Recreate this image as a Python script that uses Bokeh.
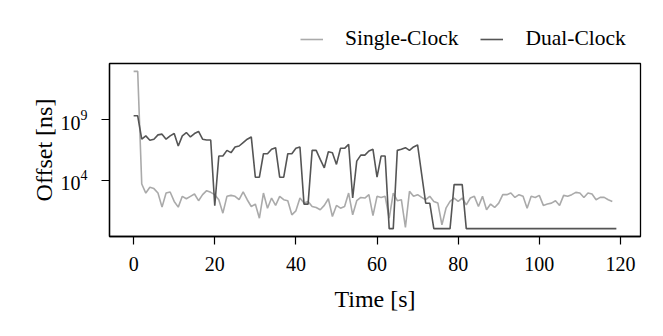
import numpy as np
from bokeh.plotting import figure
from bokeh.layouts import column
from bokeh.models import Range1d, FixedTicker, Legend, LegendItem
from bokeh.embed import file_html
from bokeh.resources import INLINE

# time in seconds
time_single = list(range(119))
time_dual = list(range(120))

# offsets as log10(ns)
single_log10 = [
    13, 13, 3.69, 2.94, 3.42, 3.31, 2.94, 1.78, 2.94, 3.03, 2.25, 1.78, 2.67, 2.47, 2.67, 2.86, 2.31, 2.81, 3.14, 3.0,
    2.81, 2.39, 1.28, 2.67, 2.75, 2.67, 2.39, 3.03, 2.39, 1.83, 2.03, 0.86, 2.94, 1.69, 2.53, 1.92, 2.67, 2.39, 2.31, 1.14, 1.47, 2.53, 2.11,
    2.25, 1.83, 1.75, 1.56, 1.92, 2.47, 1.0, 1.92, 1.69, 1.83, 2.94, 1.14, 2.31, 2.58, 2.53, 2.81, 1.08, 2.67, 2.58, 2.67, 0.86, 2.94, 2.31, 2.39, 0.1, 3.08,
    2.67, 2.81, 2.58, 2.39, 2.67, 2.25, 2.11, 0.31, 1.69, 2.25, 2.53, 2.25, 2.53, 1.97, 2.53, 2.67, 1.83, 2.67, 1.56, 2.03, 1.75, 2.11, 2.81, 2.81,
    2.94, 2.58, 2.81, 2.67, 1.69, 2.67, 2.58, 2.75, 1.92, 2.03, 2.11, 2.31, 1.92, 2.75, 2.67, 2.81, 3.0, 2.94, 2.58, 2.94, 2.86, 2.39, 2.58, 2.58, 2.39, 2.25,
]
dual_log10 = [
    9.33, 9.33, 7.39, 7.67, 7.31, 7.39, 7.75, 7.81, 7.39, 7.67, 7.86, 6.83, 7.67, 7.94, 7.58, 7.86, 8.03, 7.39, 7.33, 7.33,
    1.89, 6.0, 6.0, 6.47, 6.28, 6.75, 6.83, 7.11, 7.39, 7.58, 4.25, 4.25, 6.19, 6.19, 6.56, 6.69, 4.25, 4.25, 6.19, 6.19, 6.64, 6.75, 2.03, 2.03,
    6.47, 6.47, 5.72, 5.03, 6.36, 6.28, 5.31, 6.64, 6.64, 6.97, 2.53, 5.58, 6.08, 6.08, 6.42, 6.56, 4.25, 6.0, 6.0, 0, 0, 6.47, 6.56, 6.69, 6.47,
    6.75, 6.92, 4.5, 2.1, 2.1, 0, 0, 0, 0, 0, 3.64, 3.64, 3.64,
] + [0] * 38

y_ticks = [1e4, 1e9]
x_ticks = [0, 20, 40, 60, 80, 100, 120]
series_names = ["Single-Clock", "Dual-Clock"]
series_colors = ["#aaaaaa", "#555555"]

FONT = "Liberation Serif"

# ---- legend strip on top (frames of the column are aligned) ----
top = figure(width=655, height=61, x_range=Range1d(0, 1), y_range=Range1d(0, 1),
             output_backend="svg", toolbar_location=None,
             min_border_left=109, min_border_right=15, min_border_top=0, min_border_bottom=0)
top.axis.visible = False
top.grid.visible = False
top.outline_line_color = None
lr1 = top.line([np.nan], [np.nan], line_color=series_colors[0], line_width=1.6)
lr2 = top.line([np.nan], [np.nan], line_color=series_colors[1], line_width=1.6)
legend = Legend(items=[LegendItem(label=series_names[0], renderers=[lr1]),
                       LegendItem(label=series_names[1], renderers=[lr2])],
                location=(191, 10), orientation="horizontal")
legend.border_line_alpha = 0
legend.background_fill_alpha = 0
legend.padding = 0
legend.margin = 0
legend.spacing = 22
legend.glyph_width = 23
legend.label_standoff = 22
legend.label_text_font = FONT
legend.label_text_font_size = "21.5px"
legend.label_text_color = "black"
top.add_layout(legend, "center")

# ---- main plot ----
p = figure(width=655, height=275, y_axis_type="log",
           x_range=Range1d(-5.95, 124.95), y_range=Range1d(10 ** -0.65, 10 ** 13.65),
           output_backend="svg", toolbar_location=None,
           min_border_left=109, min_border_right=15, min_border_top=2, min_border_bottom=100)

p.line(time_single, 10 ** np.array(single_log10), line_color=series_colors[0], line_width=1.6)
p.line(time_dual, 10 ** np.array(dual_log10), line_color=series_colors[1], line_width=1.6)

p.xgrid.visible = False
p.ygrid.visible = False
p.outline_line_color = "black"
p.outline_line_width = 1.3
p.outline_line_alpha = 1.0
p.background_fill_color = "white"
p.border_fill_color = "white"

p.xaxis.ticker = FixedTicker(ticks=x_ticks)
p.yaxis.ticker = FixedTicker(ticks=y_ticks, minor_ticks=[])
for ax in (p.xaxis[0], p.yaxis[0]):
    ax.axis_line_color = "black"
    ax.axis_line_width = 1.3
    ax.major_tick_line_color = "black"
    ax.major_tick_line_width = 1.2
    ax.major_tick_out = 8
    ax.major_tick_in = 0
    ax.minor_tick_out = 0
    ax.minor_tick_in = 0
    ax.major_label_text_font = FONT
    ax.major_label_text_font_size = "20px"
    ax.major_label_text_color = "black"
    ax.axis_label_text_font = FONT
    ax.axis_label_text_font_size = "24px"
    ax.axis_label_text_font_style = "normal"
    ax.axis_label_text_color = "black"
p.xaxis.axis_label = "Time [s]"
p.yaxis.axis_label = "Offset [ns]"
p.xaxis.major_label_standoff = 12
p.xaxis.axis_label_standoff = 12
p.yaxis.major_label_standoff = 14
p.yaxis.axis_label_standoff = 1

layout = column(top, p, spacing=0)
open("out.html", "w").write(file_html(layout, INLINE))
